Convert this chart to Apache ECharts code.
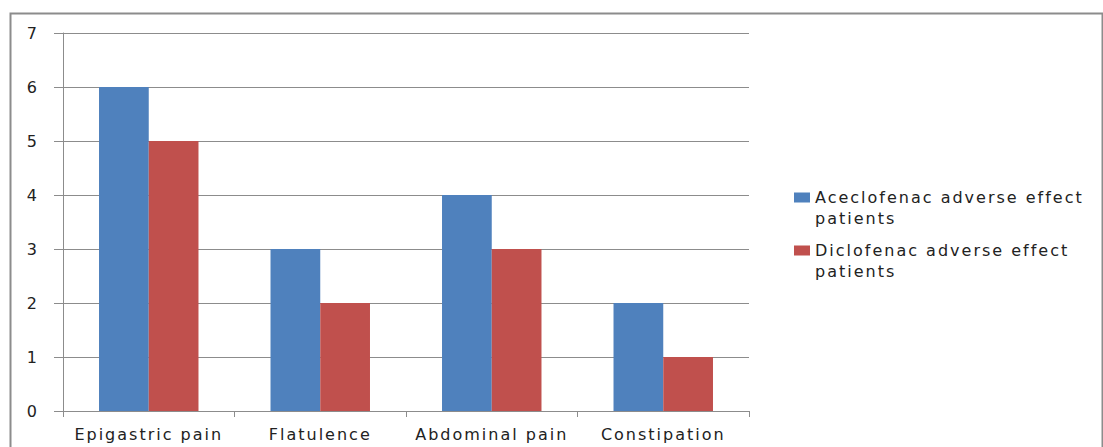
<!DOCTYPE html>
<html>
<head>
<meta charset="utf-8">
<script src="https://cdn.jsdelivr.net/npm/echarts@6/dist/echarts.min.js"></script>
<style>
  html, body { margin: 0; padding: 0; background: #fff; }
  #main { width: 1103px; height: 447px; }
  /* the reference text is drawn wide, so open it up a little */
  #main svg text { letter-spacing: 2px; }
</style>
</head>
<body>
<div id="main"></div>
<script>
var categories = ['Epigastric pain', 'Flatulence', 'Abdominal pain', 'Constipation'];
var aceclofenac = [6, 3, 4, 2];
var diclofenac = [5, 2, 3, 1];
var seriesNames = ['Aceclofenac adverse effect patients', 'Diclofenac adverse effect patients'];
var legendLabels = {
  'Aceclofenac adverse effect patients': 'Aceclofenac adverse effect\npatients',
  'Diclofenac adverse effect patients': 'Diclofenac adverse effect\npatients'
};

var myChart = echarts.init(document.getElementById('main'), null, { renderer: 'svg' });
var font = 'DejaVu Sans';
// square sits next to the first line of the two-line legend label
var legendIcon = 'path://M0,0L16,0L16,10L0,10Z M0,31L0.001,31Z';

myChart.setOption({
  animation: false,
  textStyle: { fontFamily: font },
  graphic: [{
    type: 'rect',
    shape: { x: 10.5, y: 13.5, width: 1092, height: 450 },
    style: { fill: 'none', stroke: '#8c8c8c', lineWidth: 2 },
    silent: true
  }],
  grid: { left: 63, right: 354, top: 33, bottom: 36 },
  legend: {
    orient: 'vertical',
    left: 789,
    top: 182,
    itemWidth: 16,
    itemHeight: 31,
    itemGap: 11,
    icon: legendIcon,
    data: seriesNames,
    formatter: function (n) { return legendLabels[n]; },
    textStyle: { fontFamily: font, fontSize: 16, color: '#222', lineHeight: 21 }
  },
  xAxis: {
    type: 'category',
    data: categories,
    axisLine: { lineStyle: { color: '#8c8c8c', width: 1 } },
    axisTick: { show: true, length: 6, lineStyle: { color: '#8c8c8c' } },
    axisLabel: { fontFamily: font, fontSize: 16, color: '#222', margin: 15 }
  },
  yAxis: {
    type: 'value',
    min: 0,
    max: 7,
    interval: 1,
    axisLine: { show: true, lineStyle: { color: '#8c8c8c' } },
    axisTick: { show: true, length: 9, lineStyle: { color: '#8c8c8c' } },
    splitLine: { lineStyle: { color: '#8c8c8c' } },
    axisLabel: { fontFamily: font, fontSize: 16, color: '#222', margin: 24 }
  },
  series: [
    {
      name: seriesNames[0],
      type: 'bar',
      data: aceclofenac,
      barGap: '0%',
      barCategoryGap: '42%',
      itemStyle: { color: '#4f81bd' }
    },
    {
      name: seriesNames[1],
      type: 'bar',
      data: diclofenac,
      itemStyle: { color: '#c0504d' }
    }
  ]
});
</script>
</body>
</html>
